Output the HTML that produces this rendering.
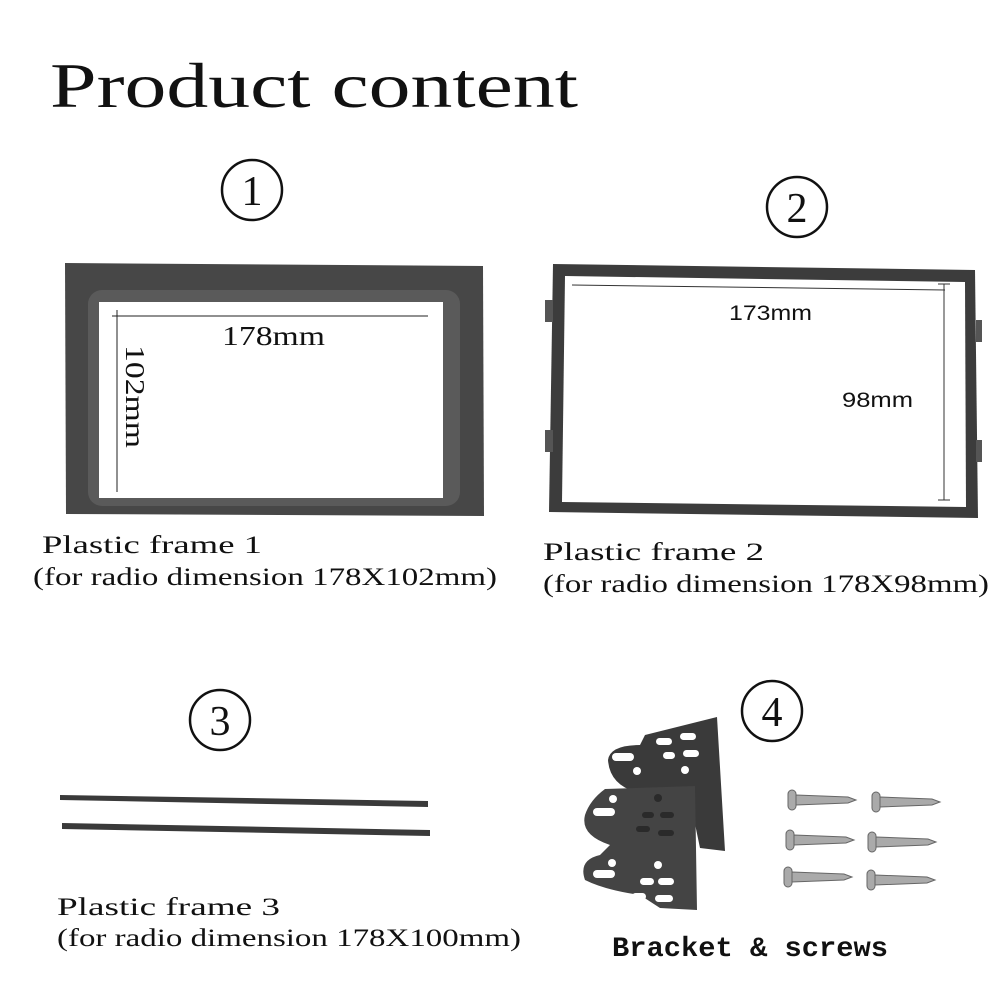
<!DOCTYPE html>
<html><head><meta charset="utf-8"><style>
html,body{margin:0;padding:0;background:#fff}
svg{display:block}
.s{font-family:"Liberation Serif",serif;fill:#111}
</style></head><body>
<svg width="1000" height="1000" viewBox="0 0 1000 1000" xmlns="http://www.w3.org/2000/svg">
<text x="50" y="107" class="s" font-size="64" textLength="528" lengthAdjust="spacingAndGlyphs" fill="#1a1a1a">Product content</text>

<g fill="none" stroke="#111" stroke-width="2.5">
<circle cx="252" cy="190" r="30"/><circle cx="797" cy="207" r="30"/>
<circle cx="220" cy="720" r="30"/><circle cx="772" cy="711" r="30"/>
</g>
<g class="s" font-size="42" text-anchor="middle">
<text x="252" y="205">1</text><text x="797" y="222">2</text>
<text x="220" y="735">3</text><text x="772" y="726">4</text>
</g>

<!-- frame 1 -->
<path d="M65 263 L483 266 L484 516 L66 514 Z" fill="#474747"/>
<rect x="88" y="290" width="372" height="216" rx="14" fill="#5a5a5a"/>
<rect x="99" y="302" width="344" height="196" fill="#fff"/>
<line x1="112" y1="316" x2="428" y2="316" stroke="#222" stroke-width="1"/>
<line x1="117" y1="310" x2="117" y2="492" stroke="#222" stroke-width="1"/>
<text x="222" y="345" class="s" font-size="27" textLength="103" lengthAdjust="spacingAndGlyphs">178mm</text>
<text transform="translate(126,345) rotate(90)" class="s" font-size="27" textLength="103" lengthAdjust="spacingAndGlyphs">102mm</text>

<!-- frame 2 -->
<path d="M553 264 L975 270 L978 518 L549 512 Z" fill="#3c3c3c"/>
<path d="M565 276 L965 282 L966 507 L562 502 Z" fill="#fff"/>
<g fill="#555"><rect x="545" y="300" width="8" height="22"/><rect x="545" y="430" width="8" height="22"/><rect x="976" y="320" width="6" height="22"/><rect x="976" y="440" width="6" height="22"/></g>
<line x1="572" y1="285" x2="945" y2="290" stroke="#333" stroke-width="1"/>
<line x1="944" y1="284" x2="944" y2="500" stroke="#333" stroke-width="1"/>
<line x1="938" y1="284" x2="950" y2="284" stroke="#333"/><line x1="938" y1="500" x2="950" y2="500" stroke="#333"/>
<text x="729" y="320" font-family="Liberation Sans,sans-serif" font-size="21" fill="#111" textLength="83" lengthAdjust="spacingAndGlyphs">173mm</text>
<text x="842" y="407" font-family="Liberation Sans,sans-serif" font-size="21" fill="#111" textLength="71" lengthAdjust="spacingAndGlyphs">98mm</text>

<!-- frame 3 bars -->
<path d="M60 795 L428 801 L428 807 L60 800 Z" fill="#3a3a3a"/>
<path d="M62 823 L430 830 L430 836 L62 829 Z" fill="#3a3a3a"/>

<g class="s" font-size="25">
<text x="42" y="553" textLength="220" lengthAdjust="spacingAndGlyphs">Plastic frame 1</text>
<text x="33" y="585" textLength="464" lengthAdjust="spacingAndGlyphs">(for radio dimension 178X102mm)</text>
<text x="543" y="560" textLength="221" lengthAdjust="spacingAndGlyphs">Plastic frame 2</text>
<text x="543" y="592" textLength="446" lengthAdjust="spacingAndGlyphs">(for radio dimension 178X98mm)</text>
<text x="57" y="915" textLength="223" lengthAdjust="spacingAndGlyphs">Plastic frame 3</text>
<text x="57" y="946" textLength="464" lengthAdjust="spacingAndGlyphs">(for radio dimension 178X100mm)</text>
</g>
<text x="612" y="956" font-family="Liberation Mono,monospace" font-size="28" font-weight="bold" fill="#111" textLength="276" lengthAdjust="spacingAndGlyphs">Bracket &amp; screws</text>

<!-- brackets -->
<path d="M645 735 L717 717 L725 851 L700 848 L690 800 L650 795 Q610 790 608 760 Q610 745 640 745 Z" fill="#3a3a3a"/>
<path d="M605 789 L695 786 L697 910 L660 908 L640 895 Q605 890 585 880 Q578 860 600 855 L610 845 Q580 835 585 815 Q590 800 605 789 Z" fill="#444"/>
<g fill="#fff">
<rect x="612" y="753" width="22" height="8" rx="4"/><circle cx="637" cy="771" r="4"/>
<rect x="656" y="738" width="16" height="7" rx="3.5"/><rect x="680" y="733" width="16" height="7" rx="3.5"/>
<rect x="663" y="752" width="12" height="7" rx="3.5"/><rect x="683" y="750" width="16" height="7" rx="3.5"/>
<circle cx="685" cy="770" r="4"/>
<rect x="593" y="808" width="22" height="8" rx="4"/><circle cx="613" cy="799" r="4"/>
<rect x="593" y="870" width="22" height="8" rx="4"/><circle cx="612" cy="863" r="4"/><circle cx="658" cy="865" r="4"/>
<rect x="640" y="878" width="14" height="7" rx="3.5"/><rect x="658" y="878" width="16" height="7" rx="3.5"/>
<rect x="632" y="893" width="14" height="7" rx="3.5"/><rect x="655" y="895" width="18" height="7" rx="3.5"/>
</g>
<g fill="#2a2a2a"><circle cx="658" cy="798" r="4"/><rect x="642" y="812" width="12" height="6" rx="3"/><rect x="660" y="812" width="14" height="6" rx="3"/><rect x="636" y="826" width="14" height="6" rx="3"/><rect x="658" y="830" width="16" height="6" rx="3"/></g>

<!-- screws -->
<g fill="#aaa" stroke="#666" stroke-width="1">
<g transform="translate(788,800)"><rect x="0" y="-10" width="8" height="20" rx="4"/><path d="M8 -5 L60 -3 L68 0 L60 3 L8 5 Z"/></g>
<g transform="translate(872,802)"><rect x="0" y="-10" width="8" height="20" rx="4"/><path d="M8 -5 L60 -3 L68 0 L60 3 L8 5 Z"/></g>
<g transform="translate(786,840)"><rect x="0" y="-10" width="8" height="20" rx="4"/><path d="M8 -5 L60 -3 L68 0 L60 3 L8 5 Z"/></g>
<g transform="translate(868,842)"><rect x="0" y="-10" width="8" height="20" rx="4"/><path d="M8 -5 L60 -3 L68 0 L60 3 L8 5 Z"/></g>
<g transform="translate(784,877)"><rect x="0" y="-10" width="8" height="20" rx="4"/><path d="M8 -5 L60 -3 L68 0 L60 3 L8 5 Z"/></g>
<g transform="translate(867,880)"><rect x="0" y="-10" width="8" height="20" rx="4"/><path d="M8 -5 L60 -3 L68 0 L60 3 L8 5 Z"/></g>
</g>
</svg>
</body></html>
